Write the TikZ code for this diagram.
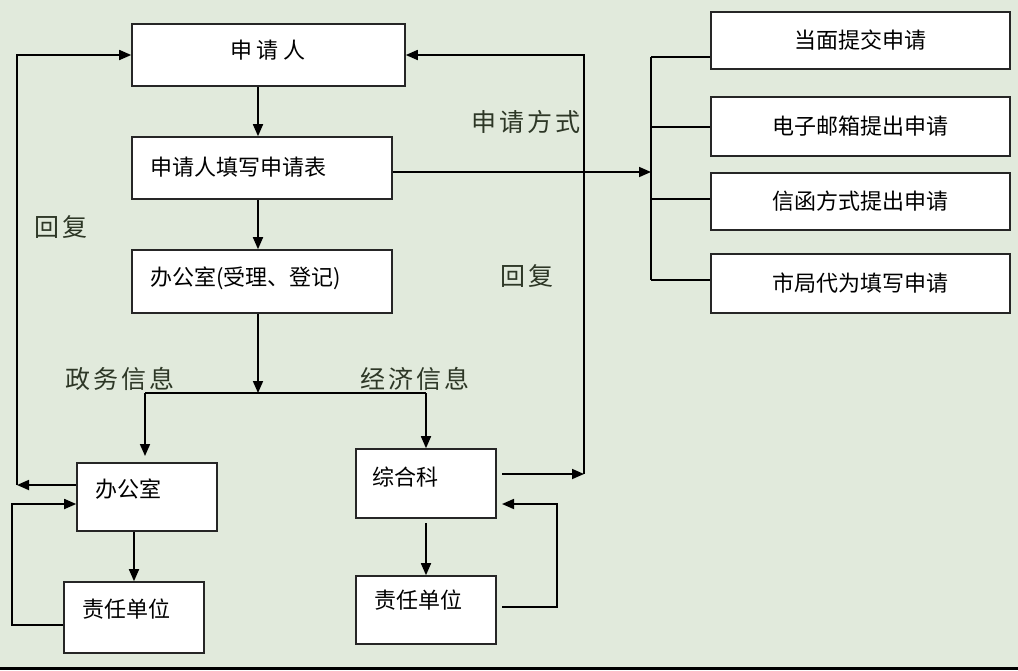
\documentclass[tikz,border=0pt]{standalone}
\usepackage{fontspec}
\usetikzlibrary{arrows.meta}
\newfontfamily\cjk{Noto Sans CJK SC}
\newfontfamily\cjkhand{Noto Sans CJK SC}[LetterSpace=12]
\definecolor{bgcol}{RGB}{225,234,220}
\definecolor{handcol}{RGB}{45,55,38}
\begin{document}
\begin{tikzpicture}[x=1pt,y=-1pt,
    box/.style={draw=black!85,line width=1.6pt,fill=white,inner sep=0pt},
    txt/.style={font=\cjk\fontsize{22}{24}\selectfont,inner sep=0pt},
    hand/.style={font=\cjkhand\fontsize{25}{27}\selectfont,text=handcol,inner sep=0pt},
    arr/.style={-{Triangle[length=12pt,width=10pt]},line width=1.7pt},
    ln/.style={line width=1.7pt}]
            \fill[bgcol] (0,0) rectangle (1018,670);
            \useasboundingbox (0,0) rectangle (1018,670);
            \fill[black] (0,667) rectangle (1018,670);

            % left column
            \node[box,minimum width=273pt,minimum height=62pt] (app) at (268.5,55) {};
            \node[txt] (tapp) at (268,50) {申 请 人};
            \node[box,minimum width=260pt,minimum height=62pt] (form) at (262,168) {};
            \node[txt,anchor=west] (tform) at (150,167) {申请人填写申请表};
            \node[box,minimum width=260pt,minimum height=63pt] (reg) at (262,281.5) {};
            \node[txt,anchor=west] (treg) at (150,278) {办公室(受理、登记)};

            % right column
            \node[box,minimum width=299pt,minimum height=57pt] (m1) at (860.5,40.5) {};
            \node[txt] (tm1) at (m1) {当面提交申请};
            \node[box,minimum width=299pt,minimum height=59pt] (m2) at (860.5,126.5) {};
            \node[txt] (tm2) at (m2) {电子邮箱提出申请};
            \node[box,minimum width=299pt,minimum height=57pt] (m3) at (860.5,201.5) {};
            \node[txt] (tm3) at (m3) {信函方式提出申请};
            \node[box,minimum width=299pt,minimum height=59pt] (m4) at (860.5,283.5) {};
            \node[txt] (tm4) at (m4) {市局代为填写申请};

            % bottom part
            \node[box,minimum width=140pt,minimum height=68pt] (off) at (147,497) {};
            \node[txt,anchor=west] (toff) at (95,489) {办公室};
            \node[box,minimum width=140pt,minimum height=71pt] (unit1) at (134,617.5) {};
            \node[txt,anchor=west] (tunit1) at (82,609) {责任单位};
            \node[box,minimum width=140pt,minimum height=69pt] (gen) at (426,483.5) {};
            \node[txt,anchor=west] (tgen) at (372,477) {综合科};
            \node[box,minimum width=140pt,minimum height=68pt] (unit2) at (426,610) {};
            \node[txt,anchor=west] (tunit2) at (374,600) {责任单位};

            % labels
            \node[hand] (lway) at (526,122) {申请方式};
            \node[hand] (lrep1) at (61,227) {回复};
            \node[hand] (lrep2) at (527,276) {回复};
            \node[hand] (lgov) at (120,379) {政务信息};
            \node[hand] (leco) at (415,379) {经济信息};

            \coordinate (split) at (258,393);
            \coordinate (bra) at (651,172);
            \coordinate (ret1) at (17,485);
            \coordinate (ret2) at (584,474);

            \draw[arr] (app.south -| split) -- (form.north -| split);
            \draw[arr] (form.south -| split) -- (reg.north -| split);
            \draw[arr] (reg.south -| split) -- (split);
            \draw[ln] (145,393) -- (426,393);
            \draw[arr] (145,393) -- (145,456);
            \draw[arr] (426,393) -- (gen.north);
            \draw[arr] (off.south -| unit1) -- (unit1.north);
            \draw[arr] (gen.south |- 0,523) -- (unit2.north);

            % application ways
            \draw[arr] (form.east |- bra) -- (bra);
            \draw[ln] (651,57) -- (651,280);
            \draw[ln] (651,57) -- (m1.west |- 0,57);
            \draw[ln] (651,127) -- (m2.west |- 0,127);
            \draw[ln] (651,199) -- (m3.west |- 0,199);
            \draw[ln] (651,280) -- (m4.west |- 0,280);

            % replies
            \draw[arr] (off.west |- ret1) -- (ret1);
            \draw[arr] (ret1) |- (app.west);
            \draw[arr] (unit1.west |- 0,625) -| (12,504) -- (off.west |- 0,504);
            \draw[arr] (502,474) -- (ret2);
            \draw[arr] (ret2) |- (app.east);
            \draw[arr] (502,607) -| (557,504) -- (502,504);
\end{tikzpicture}
\end{document}
